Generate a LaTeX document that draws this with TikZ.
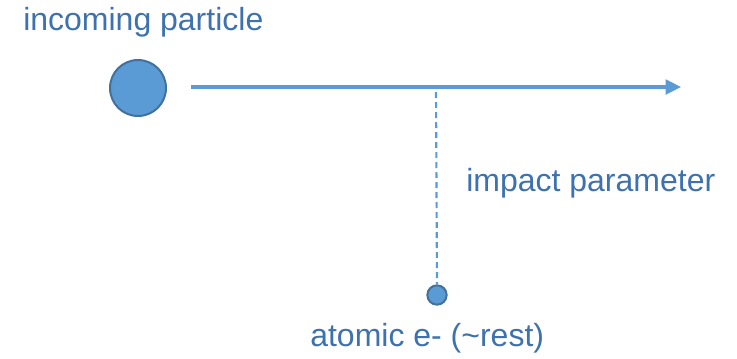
\documentclass[tikz,border=0pt]{standalone}
\usepackage{fontspec}
\setmainfont{Liberation Sans}
\usetikzlibrary{positioning, arrows.meta}
\definecolor{partfill}{HTML}{5B9BD5}
\definecolor{partedge}{HTML}{41719C}
\definecolor{labelblue}{HTML}{3D72AE}

\begin{document}
\begin{tikzpicture}[
				x=0.75pt, y=-0.75pt,
				particle/.style={circle, fill=partfill, draw=partedge, line width=1.5pt, inner sep=0pt},
				label text/.style={text=labelblue, font=\fontsize{24}{28}\selectfont, inner sep=0pt, anchor=west}]
				\useasboundingbox (0,0) rectangle (737,358);
				\node[particle, minimum size=42pt] (incoming) at (138,88) {};
				\coordinate (track start) at (191,87);
				\coordinate (track end) at (681,87);
				\draw[partfill, line width=2.3pt, -{Triangle[length=11.5pt, width=11pt]}] (track start) -- (track end);
				\coordinate (closest) at (436,92);
				\node[particle, minimum size=14.5pt] (electron) at (437,295) {};
				\draw[partfill, line width=1.6pt, dash pattern=on 4.5pt off 3pt] (closest) -- (electron.north);
				\node[label text] (incoming label) at (23,22) {incoming particle};
				\node[label text] (impact label) at (466,183) {impact parameter};
				\node[label text] (electron label) at (310,338) {atomic e- (\textasciitilde rest)};
			\end{tikzpicture}
\end{document}
